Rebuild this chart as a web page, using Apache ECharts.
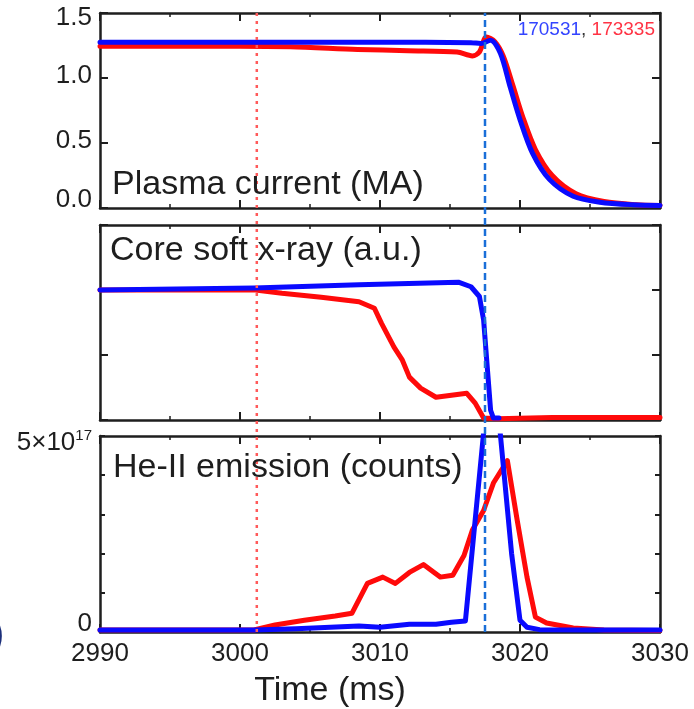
<!DOCTYPE html>
<html>
<head>
<meta charset="utf-8">
<script src="https://cdn.jsdelivr.net/npm/echarts@6/dist/echarts.min.js"></script>
<style>
  html, body { margin: 0; padding: 0; background: #fff; }
  #chart { width: 694px; height: 709px; }
</style>
</head>
<body>
<div id="chart"></div>
<script>
// ---------------- data ----------------
const timeTicks = [2990, 3000, 3010, 3020, 3030];
const ipTicks = [0.0, 0.5, 1.0, 1.5];
const sxrTicks = [0, 1, 2, 3];
const heTicks = [0, 1, 2, 3, 4, 5];
const heTickLabels = { 0: '0', 5: '5×10|17' };
const shotBlue = '170531';
const shotRed = '173335';
const vLineTimes = [3001.2, 3017.5];   // red dotted, blue dashed

// Plasma current (MA)
const ipBlueTime  = [2990, 3000, 3010, 3016.5, 3017.2, 3017.9, 3018.6, 3019.3, 3020.0, 3020.9, 3022.1, 3023.8, 3025.7, 3028.1, 3030];
const ipBlueValue = [1.275, 1.275, 1.275, 1.272, 1.265, 1.29, 1.19, 0.93, 0.68, 0.42, 0.22, 0.09, 0.045, 0.025, 0.02];
const ipRedTime   = [2990, 3000, 3003.6, 3008.4, 3012, 3015.5, 3016.6, 3017.1, 3017.6, 3018.2, 3018.8, 3019.5, 3020.2, 3021.1, 3022.3, 3024.0, 3026, 3028.3, 3030];
const ipRedValue  = [1.245, 1.245, 1.24, 1.22, 1.21, 1.2, 1.17, 1.2, 1.315, 1.28, 1.17, 0.94, 0.7, 0.45, 0.25, 0.11, 0.05, 0.025, 0.02];

// Core soft x-ray (a.u.)
const sxrBlueTime  = [2990, 3001, 3008.5, 3015.6, 3016.5, 3017.1, 3017.4, 3017.9, 3018.1, 3018.5];
const sxrBlueValue = [2.0, 2.03, 2.08, 2.12, 2.05, 1.9, 1.54, 0.15, 0.03, 0.03];
const sxrRedTime   = [2990, 3001.1, 3003, 3005.8, 3008.5, 3009.6, 3010.1, 3011, 3011.6, 3012.1, 3012.9, 3014, 3016.2, 3016.8, 3017.4, 3018.4, 3022.3, 3030];
const sxrRedValue  = [2.0, 2.0, 1.95, 1.89, 1.82, 1.72, 1.49, 1.12, 0.92, 0.66, 0.49, 0.35, 0.41, 0.26, 0.03, 0.02, 0.04, 0.04];

// He-II emission (counts, x1e17)
const heRedTime   = [2990, 3001, 3002.5, 3004.6, 3006.8, 3008, 3009.1, 3010.2, 3011.1, 3012.1, 3013.1, 3014.3, 3015.2, 3016.0, 3016.6, 3017.4, 3018.1, 3018.8, 3019.1, 3019.8, 3020.5, 3021.1, 3021.9, 3023.8, 3026, 3030];
const heRedValue  = [0.05, 0.05, 0.18, 0.3, 0.41, 0.48, 1.24, 1.4, 1.24, 1.52, 1.72, 1.4, 1.45, 1.95, 2.6, 3.1, 3.8, 4.2, 4.37, 2.85, 1.4, 0.38, 0.23, 0.1, 0.05, 0.04];
const heBlueTime  = [2990, 3001, 3004, 3008.5, 3010, 3012.1, 3014, 3015.1, 3016.1, 3018.0, 3019.4, 3020.0, 3020.5, 3021.4, 3025, 3030];
const heBlueValue = [0.05, 0.05, 0.08, 0.15, 0.12, 0.2, 0.2, 0.25, 0.28, 7.3, 2.0, 0.3, 0.12, 0.06, 0.05, 0.05];

// ---------------- chart ----------------
const pair = (t, v) => t.map((x, i) => [x, v[i]]);
const FONT = 'Liberation Sans';
const INK = '#1e1e1e';
const BLUE = '#0a0aff';
const RED = '#ff0a0a';

const gridsPos = [
  { top: 13, height: 195 },
  { top: 225, height: 195 },
  { top: 436, height: 196 },
  { top: 13, height: 619 }   // overlay for vertical markers
];
const grid = gridsPos.map(g => ({ left: 100, right: 34, top: g.top, height: g.height, containLabel: false }));

const xAxis = [];
const yAxis = [];
function addX(gi, position, showLabel) {
  xAxis.push({
    type: 'value', gridIndex: gi, position: position,
    min: timeTicks[0], max: timeTicks[timeTicks.length - 1], interval: 10,
    axisLine: { show: true, onZero: false, lineStyle: { color: INK, width: 2.5 } },
    axisTick: { show: true, inside: true, length: 8, lineStyle: { color: INK, width: 2 } },
    minorTick: { show: true, splitNumber: 2, length: 4, lineStyle: { color: INK, width: 1.5 } },
    splitLine: { show: false },
    axisLabel: showLabel ? {
      show: true, fontSize: 26, fontFamily: FONT, color: INK, margin: 9,
      showMinLabel: true, showMaxLabel: true,
      formatter: v => timeTicks.includes(v) ? String(v) : ''
    } : { show: false }
  });
}
function addY(gi, position, ticks, interval, labelFn, tickLen) {
  yAxis.push({
    type: 'value', gridIndex: gi, position: position,
    min: ticks[0], max: ticks[ticks.length - 1], interval: interval,
    axisLine: { show: true, onZero: false, lineStyle: { color: INK, width: 2.5 } },
    axisTick: { show: true, inside: true, length: tickLen, lineStyle: { color: INK, width: 2 } },
    splitLine: { show: false },
    axisLabel: labelFn ? {
      show: true, fontSize: 26, fontFamily: FONT, color: INK, margin: 8,
      showMinLabel: true, showMaxLabel: true,
      formatter: labelFn,
      rich: {
        lo: { fontSize: 26, fontFamily: FONT, color: INK, padding: [0, 0, 16, 0] },
        hi: { fontSize: 26, fontFamily: FONT, color: INK, padding: [10, 0, 0, 0] },
        mid: { fontSize: 26, fontFamily: FONT, color: INK, padding: [0, 0, 4, 0] },
        hi2: { fontSize: 26, fontFamily: FONT, color: INK, padding: [14, 0, 0, 0] },
        sup: { fontSize: 15, fontFamily: FONT, color: INK, padding: [0, 0, 0, 0] }
      }
    } : { show: false }
  });
}

// panel 1
addX(0, 'bottom', false); addX(0, 'top', false);
addY(0, 'left', ipTicks, 0.5, v => {
  const s = v.toFixed(1);
  if (v === ipTicks[0]) return '{lo|' + s + '}';
  if (v === ipTicks[ipTicks.length - 1]) return '{hi|' + s + '}';
  return '{mid|' + s + '}';
}, 8);
addY(0, 'right', ipTicks, 0.5, null, 8);
// panel 2
addX(1, 'bottom', false); addX(1, 'top', false);
addY(1, 'left', sxrTicks, 1, null, 8);
addY(1, 'right', sxrTicks, 1, null, 8);
// panel 3
addX(2, 'bottom', true); addX(2, 'top', false);
addY(2, 'left', heTicks, 1, v => {
  const s = heTickLabels[v];
  if (s === undefined) return '';
  if (v === 0) return '{lo|' + s + '}';
  const parts = s.split('|');
  return '{hi2|' + parts[0] + '}{sup|' + parts[1] + '}';
}, 5);
addY(2, 'right', heTicks, 1, null, 5);
// overlay
xAxis.push({ type: 'value', gridIndex: 3, min: timeTicks[0], max: timeTicks[timeTicks.length - 1], show: false });
yAxis.push({ type: 'value', gridIndex: 3, min: 0, max: 1, show: false });

function lineSeries(name, gi, data, color, z, smooth) {
  return {
    name: name, type: 'line', xAxisIndex: 2 * gi, yAxisIndex: 2 * gi,
    data: data, showSymbol: false, symbol: 'none', clip: true,
    smooth: smooth || false,
    lineStyle: { color: color, width: 5, join: 'round', cap: 'round' },
    z: z, animation: false
  };
}

const series = [
  lineSeries(shotRed, 0, pair(ipRedTime, ipRedValue), RED, 2, 0.3),
  lineSeries(shotBlue, 0, pair(ipBlueTime, ipBlueValue), BLUE, 3, 0.3),
  lineSeries(shotRed, 1, pair(sxrRedTime, sxrRedValue), RED, 2),
  lineSeries(shotBlue, 1, pair(sxrBlueTime, sxrBlueValue), BLUE, 3),
  lineSeries(shotRed, 2, pair(heRedTime, heRedValue), RED, 2),
  lineSeries(shotBlue, 2, pair(heBlueTime, heBlueValue), BLUE, 3),
  {
    type: 'line', xAxisIndex: 6, yAxisIndex: 6, showSymbol: false, symbol: 'none',
    data: [[vLineTimes[0], 0], [vLineTimes[0], 1]],
    lineStyle: { color: '#ff5a5a', width: 2.5, type: [3, 5] }, z: 5, animation: false
  },
  {
    type: 'line', xAxisIndex: 6, yAxisIndex: 6, showSymbol: false, symbol: 'none',
    data: [[vLineTimes[1], 0], [vLineTimes[1], 1]],
    lineStyle: { color: '#1a6fd8', width: 2.5, type: [7, 4] }, z: 5, animation: false
  }
];

const titleFont = '34px "' + FONT + '"';
const graphic = [
  { type: 'text', x: 112, y: 185, z: 10, style: { text: 'Plasma current (MA)', font: titleFont, fill: INK, verticalAlign: 'middle' } },
  { type: 'text', x: 110, y: 251, z: 10, style: { text: 'Core soft x-ray (a.u.)', font: titleFont, fill: INK, verticalAlign: 'middle' } },
  { type: 'text', x: 113, y: 468, z: 10, style: { text: 'He-II emission (counts)', font: titleFont, fill: INK, verticalAlign: 'middle' } },
  { type: 'text', x: 330, y: 691, z: 10, style: { text: 'Time (ms)', font: '34px "' + FONT + '"', fill: INK, align: 'center', verticalAlign: 'middle' } },
  { type: 'text', x: 655, y: 30, z: 10, style: {
      text: '{b|' + shotBlue + '}{k|, }{r|' + shotRed + '}',
      align: 'right', verticalAlign: 'middle',
      rich: {
        b: { fontSize: 19, fontFamily: FONT, fill: '#3344ff' },
        k: { fontSize: 19, fontFamily: FONT, fill: '#333' },
        r: { fontSize: 19, fontFamily: FONT, fill: '#ff3344' }
      }
  } },
  { type: 'text', x: -9, y: 636, z: 10, style: { text: ')', font: '40px "' + FONT + '"', fill: '#1c2f7a', verticalAlign: 'middle' } }
];

const chart = echarts.init(document.getElementById('chart'), null, { renderer: 'canvas' });
chart.setOption({
  animation: false,
  backgroundColor: '#ffffff',
  grid: grid,
  xAxis: xAxis,
  yAxis: yAxis,
  series: series,
  graphic: graphic
});
</script>
</body>
</html>
